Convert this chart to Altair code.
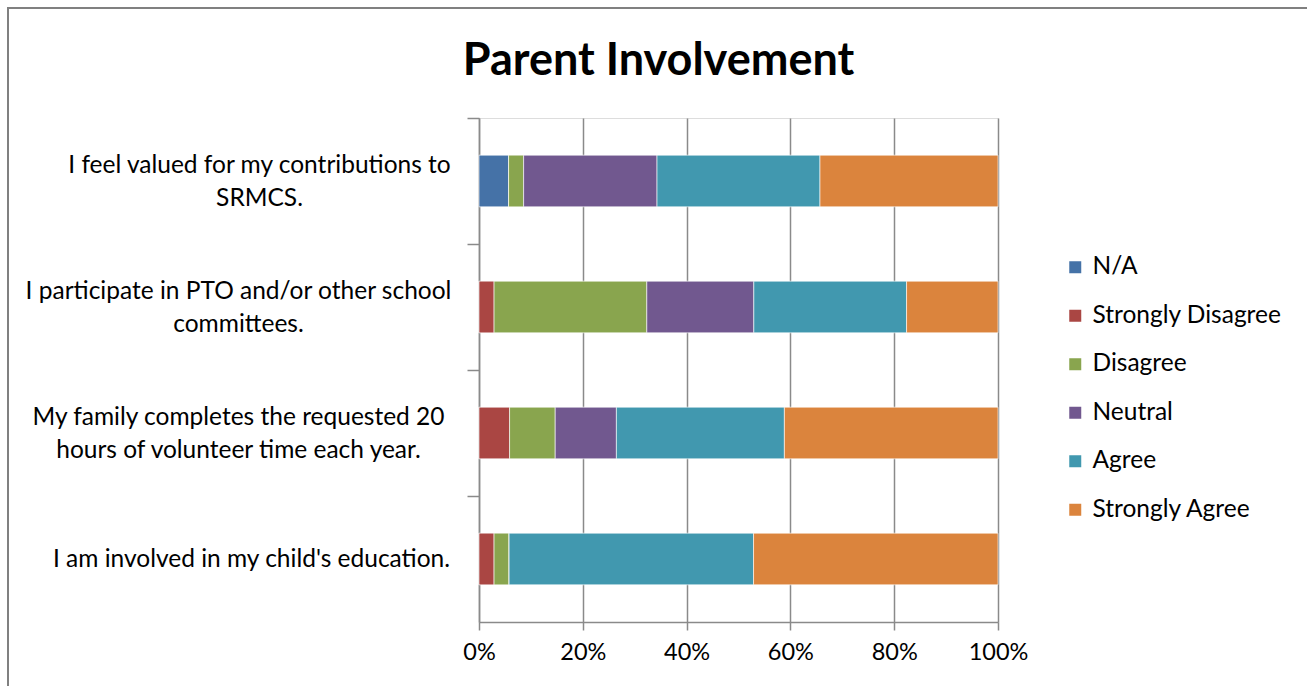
import altair as alt
import pandas as pd

statements = [
    "I feel valued for my contributions to|SRMCS.",
    "I participate in PTO and/or other school|committees.",
    "My family completes the requested 20|hours of volunteer time each year.",
    "I am involved in my child's education.",
]
responses = ["N/A", "Strongly Disagree", "Disagree", "Neutral", "Agree", "Strongly Agree"]
colors = ["#4572A7", "#AA4643", "#89A54E", "#71588F", "#4198AF", "#DB843D"]

# percent of respondents per statement, in response order
na = [5.7, 0.0, 0.0, 0.0]
strongly_disagree = [0.0, 2.9, 5.9, 2.9]
disagree = [2.9, 29.4, 8.8, 2.9]
neutral = [25.7, 20.6, 11.8, 0.0]
agree = [31.4, 29.4, 32.4, 47.1]
strongly_agree = [34.3, 17.6, 41.2, 47.1]

series = [na, strongly_disagree, disagree, neutral, agree, strongly_agree]
rows = []
for si, (resp, vals) in enumerate(zip(responses, series)):
    for stmt, v in zip(statements, vals):
        rows.append({"statement": stmt, "response": resp, "pct": v, "rank": si})
df = pd.DataFrame(rows)

FONT = "Lato"
GRID = "#8a8a8a"
PAD_INNER = 0.59
HALF_GAP = 126 * PAD_INNER / 2  # boundary offset from band start

label_pad = {
    "condition": [
        {"test": "indexof(datum.value, 'valued') >= 0", "value": 208},
        {"test": "indexof(datum.value, 'involved') >= 0", "value": 216},
    ],
    "value": 229,
}
label_off = {
    "condition": {"test": "indexof(datum.value, 'involved') >= 0", "value": HALF_GAP},
    "value": HALF_GAP - 16,
}

bars = alt.Chart(df).mark_bar(stroke="#ffffff", strokeOpacity=0.6, strokeWidth=1).encode(
    y=alt.Y(
        "statement:N",
        sort=statements,
        title=None,
        scale=alt.Scale(paddingInner=PAD_INNER, paddingOuter=PAD_INNER / 2),
        axis=alt.Axis(
            labelExpr="split(datum.label, '|')",
            labelAlign="center",
            labelBaseline="middle",
            labelPadding=label_pad,
            labelOffset=label_off,
            labelLineHeight=33,
            labelFont=FONT,
            labelFontSize=24.5,
            labelColor="#000000",
            labelLimit=700,
            bandPosition=0,
            tickOffset=-HALF_GAP,
            tickSize=12,
            tickColor=GRID,
            tickWidth=1.5,
            domainColor=GRID,
            domainWidth=1.5,
            grid=False,
        ),
    ),
    x=alt.X(
        "pct:Q",
        stack="normalize",
        title=None,
        scale=alt.Scale(domain=[0, 1], nice=False),
        axis=alt.Axis(
            format="%",
            values=[0, 0.2, 0.4, 0.6, 0.8, 1.0],
            grid=True,
            gridColor=GRID,
            gridWidth=1.5,
            tickSize=8,
            tickColor=GRID,
            tickWidth=1.5,
            domainColor=GRID,
            domainWidth=1.5,
            labelFont=FONT,
            labelFontSize=23.5,
            labelColor="#000000",
            labelPadding=10,
            labelFlush=False,
        ),
    ),
    color=alt.Color(
        "response:N",
        sort=responses,
        scale=alt.Scale(domain=responses, range=colors),
        legend=alt.Legend(
            title=None,
            orient="none",
            legendX=584,
            legendY=137,
            symbolType="square",
            symbolSize=144,
            symbolStrokeWidth=0,
            symbolOpacity=1,
            labelFont=FONT,
            labelFontSize=24.5,
            labelColor="#000000",
            labelLimit=300,
            labelOffset=5,
            rowPadding=23.5,
            padding=0,
        ),
    ),
    order=alt.Order("rank:Q", sort="ascending"),
)

frame = alt.Chart(alt.Data(values=[{"k": 1}])).mark_rect(
    fillOpacity=0, stroke="#808080", strokeWidth=2
).encode(
    x=alt.value(-471), x2=alt.value(900), y=alt.value(-110), y2=alt.value(600)
)

chart = alt.layer(bars, frame).properties(
    width=519,
    height=504,
    padding={"left": 479, "top": 118, "right": 309, "bottom": 64},
    autosize=alt.AutoSizeParams(type="none"),
    title=alt.TitleParams(
        "Parent Involvement",
        font=FONT,
        fontSize=45,
        fontWeight="bold",
        color="#000000",
        anchor="middle",
        dx=-80,
        offset=-77,
    ),
).configure_view(strokeWidth=0).configure(background="#ffffff")

chart.save("out.html", embed_options={"renderer": "svg", "actions": False})
